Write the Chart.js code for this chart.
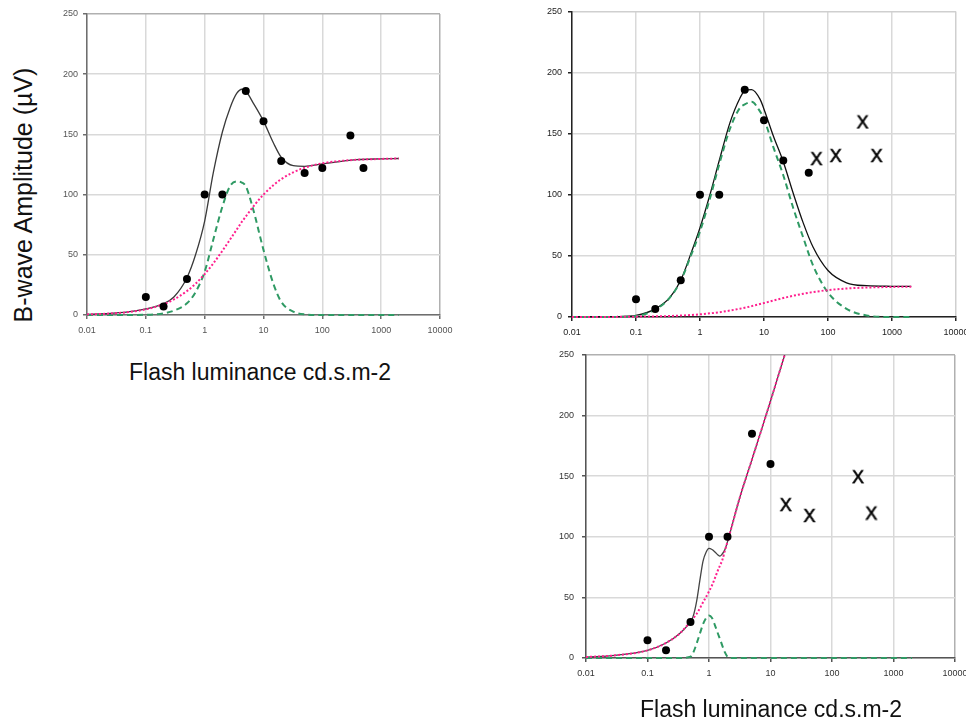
<!DOCTYPE html>
<html>
<head>
<meta charset="utf-8">
<script src="https://cdn.jsdelivr.net/npm/chart.js@4.4.1/dist/chart.umd.min.js"></script>
<style>
  html, body { margin: 0; padding: 0; background: #fff; }
  body { width: 966px; height: 722px; overflow: hidden; position: relative; font-family: "Liberation Sans", Arial, sans-serif; }
  canvas { position: absolute; }
  .title { position: absolute; white-space: nowrap; line-height: 1; color: #111; transform: translate(-50%, -50%); }
  #ytitle { transform: translate(-50%, -50%) rotate(-90deg); }
</style>
</head>
<body>
<canvas id="chartA" width="410" height="339" style="left:50px;top:0px"></canvas>
<canvas id="chartB" width="446" height="341" style="left:530px;top:0px"></canvas>
<canvas id="chartC" width="435" height="342" style="left:540px;top:340px"></canvas>
<div class="title" id="ytitle" style="left:23px;top:195px;font-size:25px">B-wave Amplitude (µV)</div>
<div class="title" style="left:260px;top:372px;font-size:23px">Flash luminance cd.s.m-2</div>
<div class="title" style="left:771px;top:709px;font-size:23px">Flash luminance cd.s.m-2</div>
<script>
const xTicks = [0.01, 0.1, 1, 10, 100, 1000, 10000];
const xTickLabels = ['0.01', '0.1', '1', '10', '100', '1000', '10000'];

// left panel
const dotsAX = [0.1, 0.2, 0.5, 1, 2, 5, 10, 20, 50, 100, 300, 500];
const dotsAY = [15, 7, 30, 100, 100, 186, 161, 128, 118, 122, 149, 122];
const fitAX   = [0.01, 0.02, 0.05, 0.1, 0.2, 0.3, 0.5, 0.7, 1, 1.4, 2, 2.7, 3.5, 4.3, 5, 6.7, 10, 14.7, 20, 32, 50, 100, 380, 1000, 2000];
const totalAY = [0.5, 1.1, 2.6, 5, 9.5, 15, 31, 50, 78, 118, 152, 172, 184, 187.5, 186, 176, 161, 143, 131, 124, 123.5, 125.5, 129, 129.7, 130];
const peakAY  = [0, 0, 0, 0.2, 1.4, 3.6, 9.7, 19, 36, 62.5, 90, 107, 111, 110, 107, 87.5, 54, 26, 11, 2.8, 0.5, 0, 0, 0, 0];
const riseAY  = [0.5, 1, 2.4, 4.7, 9, 12.9, 19.9, 26, 34, 42.8, 53.3, 62.7, 70.9, 77.5, 81.8, 90.1, 100, 107.8, 112.8, 118.5, 122.3, 126, 128.9, 129.6, 130];

// top right panel
const dotsBX = [0.1, 0.2, 0.5, 1, 2, 5, 10, 20, 50];
const dotsBY = [14.5, 6.5, 30, 100, 100, 186, 161, 128, 118];
const crossBX = [66, 132, 347, 575];
const crossBY = [130, 132.5, 160, 132.5];
const fitBX   = [0.01, 0.05, 0.1, 0.2, 0.34, 0.5, 0.7, 1, 1.43, 2, 2.94, 4.2, 5, 6.4, 8.7, 10, 14, 20, 28.7, 41, 58.6, 100, 195, 400, 1000, 2000];
const totalBY = [0, 0.3, 1.3, 6.7, 16, 30, 50, 73, 100, 128, 159, 179, 185, 186, 178, 170, 148, 127, 101, 77, 57, 38, 28, 25.6, 25.1, 25];
const peakBY  = [0, 0.1, 0.8, 6, 16, 29.6, 48.5, 70, 97, 125, 154, 171, 174, 176, 168, 162, 139, 116, 89, 65, 42, 20, 6.7, 1.3, 0, 0];
const riseBY  = [0, 0.1, 0.3, 0.5, 0.8, 1.2, 1.6, 2.2, 3, 3.9, 5.3, 6.8, 7.6, 8.9, 10.6, 11.4, 13.4, 15.5, 17.4, 19, 20.4, 22, 23.3, 24.1, 24.6, 24.8];

// bottom right panel
const dotsCX = [0.1, 0.2, 0.5, 1, 2, 5, 10];
const dotsCY = [14.6, 6.3, 29.7, 100, 100, 185, 160];
const crossCX = [17.7, 43, 265, 436];
const crossCY = [127, 118, 150, 120];
const fitCX   = [0.01, 0.03, 0.1, 0.2, 0.33, 0.5, 0.55, 0.63, 0.71, 0.8, 0.9, 1, 1.12, 1.25, 1.4, 1.5, 1.65, 1.8, 2, 2.3, 3.15, 4.8, 7.1, 10, 17, 30, 100, 1000, 2000];
const totalCY = [0.8, 2.2, 6.3, 12.4, 20, 30, 34, 47, 64, 80, 87.5, 90.5, 89.5, 87.5, 85, 84, 86, 89, 96, 107, 132, 161, 188, 212, 250, 289];
const peakCY  = [0, 0, 0, 0, 0, 1, 4, 12, 20, 28, 33, 35, 33, 27, 20, 16, 10, 5, 1, 0, 0, 0, 0, 0, 0, 0, 0, 0, 0];
const riseCY  = [0.8, 2.2, 6.3, 12.4, 20, 30, 32.5, 36.5, 41, 46, 50.5, 55, 60, 66, 72.5, 76, 81, 88, 96, 107, 132, 161, 188, 212, 250, 289];

const FONT = '"Liberation Sans", Arial, sans-serif';

function pts(xs, ys) {
  return xs.map((x, i) => ({ x: x, y: ys[i] })).filter(p => p.y !== undefined);
}

// the "X" markers are letters in the original, so draw one as the point image
function letterX() {
  const c = document.createElement('canvas');
  c.width = 16; c.height = 16;
  const g = c.getContext('2d');
  g.font = '18px ' + FONT;
  g.fillStyle = '#000';
  g.strokeStyle = '#000';
  g.lineWidth = 0.6;
  g.textAlign = 'center';
  g.textBaseline = 'alphabetic';
  g.fillText('X', 8, 14.5);
  g.strokeText('X', 8, 14.5);
  return c;
}

function curve(data, color, width, dash) {
  return {
    data: data,
    showLine: true,
    borderColor: color,
    borderWidth: width,
    borderDash: dash,
    pointRadius: 0,
    cubicInterpolationMode: 'monotone',
    clip: { left: 3, top: 0, right: 3, bottom: 5 },
  };
}

function makeChart(id, p) {
  const datasets = [
    { data: pts(p.dotsX, p.dotsY), pointRadius: 4, pointBackgroundColor: '#000', pointBorderColor: '#000', pointBorderWidth: 0 },
  ];
  if (p.crossX) {
    datasets.push({ data: pts(p.crossX, p.crossY), pointStyle: letterX(), pointRadius: 8 });
  }
  datasets.push(curve(pts(p.fitX, p.rise), '#ff1f8e', 2, [2, 2]));
  datasets.push(curve(pts(p.fitX, p.peak), '#2f9a64', 2, [6, 4]));
  datasets.push(curve(pts(p.fitX, p.total), p.lineColor, 1.3, []));

  new Chart(document.getElementById(id).getContext('2d'), {
    type: 'scatter',
    data: { datasets: datasets },
    options: {
      responsive: false,
      animation: false,
      layout: { padding: { top: p.padTop, right: 20, left: 0, bottom: 0 } },
      plugins: { legend: { display: false }, tooltip: { enabled: false } },
      scales: {
        x: {
          type: 'logarithmic',
          min: 0.01,
          max: 10000,
          afterBuildTicks: s => { s.ticks = xTicks.map(v => ({ value: v })); },
          afterFit: s => { s.height = 24; },
          ticks: {
            autoSkip: false, maxRotation: 0, padding: 6,
            color: p.tickColor, font: { family: FONT, size: 9 },
            callback: (v, i) => xTickLabels[i],
          },
          grid: {
            color: c => (c.tick && c.tick.value === 10000 ? p.edgeColor : '#d9d9d9'),
            lineWidth: 1.5, tickLength: 4, tickColor: p.axisColor,
          },
          border: { color: p.axisColor, width: 1.5 },
        },
        y: {
          min: 0,
          max: 250,
          afterFit: s => { s.width = p.yWidth; },
          ticks: { stepSize: 50, padding: p.yPad, color: p.tickColor, font: { family: FONT, size: 9 } },
          grid: {
            color: c => (c.tick && c.tick.value === 250 ? p.edgeColor : '#d9d9d9'),
            lineWidth: 1.5, tickLength: 4, tickColor: p.axisColor,
          },
          border: { color: p.axisColor, width: 1.5 },
        },
      },
    },
  });
}

makeChart('chartA', {
  dotsX: dotsAX, dotsY: dotsAY, fitX: fitAX, total: totalAY, peak: peakAY, rise: riseAY,
  lineColor: '#3a3a3a', tickColor: '#555', axisColor: '#6e6e6e', edgeColor: '#b0b0b0',
  padTop: 14, yWidth: 37, yPad: 5,
});
makeChart('chartB', {
  dotsX: dotsBX, dotsY: dotsBY, crossX: crossBX, crossY: crossBY, fitX: fitBX, total: totalBY, peak: peakBY, rise: riseBY,
  lineColor: '#111', tickColor: '#222', axisColor: '#222', edgeColor: '#cfcfcf',
  padTop: 6, yWidth: 42, yPad: 6,
});
makeChart('chartC', {
  dotsX: dotsCX, dotsY: dotsCY, crossX: crossCX, crossY: crossCY, fitX: fitCX, total: totalCY, peak: peakCY, rise: riseCY,
  lineColor: '#444', tickColor: '#333', axisColor: '#555', edgeColor: '#b0b0b0',
  padTop: 15, yWidth: 46, yPad: 8,
});
</script>
</body>
</html>
